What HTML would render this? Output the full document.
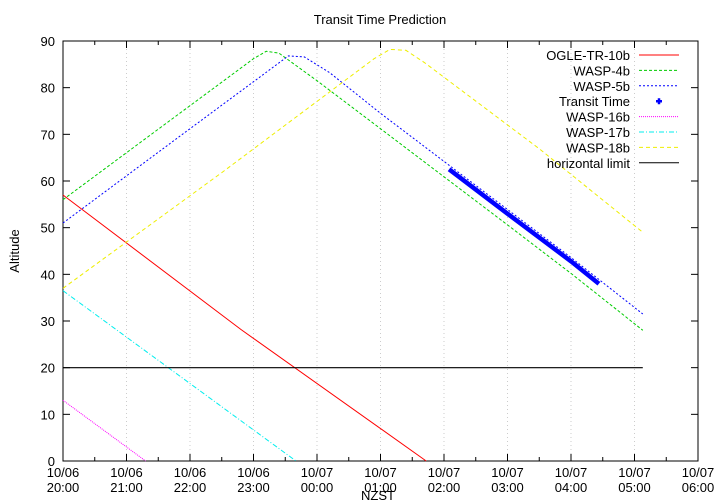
<!DOCTYPE html>
<html><head><meta charset="utf-8"><style>
body{margin:0;background:#fff}
svg{display:block;font-family:"Liberation Sans",sans-serif}
</style></head><body>
<svg id="c" width="720" height="504"></svg>
<script>
const xTickLabels=[["10/06","20:00"],["10/06","21:00"],["10/06","22:00"],["10/06","23:00"],["10/07","00:00"],["10/07","01:00"],["10/07","02:00"],["10/07","03:00"],["10/07","04:00"],["10/07","05:00"],["10/07","06:00"]];
const yTicks=[0,10,20,30,40,50,60,70,80,90];
const ogleX=[0,2.8,5.72];
const ogleY=[57,28.2,0];
const wasp4X=[0,1.6,3.0,3.2,3.4,4,5,6,7,8,9.13];
const wasp4Y=[56,72.1,86.2,87.8,87.4,81.5,71.2,60.9,50.6,40.2,28];
const wasp5X=[0,1.8,3.3,3.55,3.8,4.2,5,6,7,8,9.13];
const wasp5Y=[51,69.2,84.3,86.8,86.6,83.2,74.5,64.2,53.9,43.6,31.5];
const transitX=[6.08,7,8,8.44];
const transitY=[62.5,53,42.8,38];
const wasp16X=[0,1.3];
const wasp16Y=[13,0];
const wasp17X=[0,3.67];
const wasp17Y=[36.5,0];
const wasp18X=[0,2.5,4.9,5.15,5.4,5.7,7.5,9.13];
const wasp18Y=[37,61.8,86.2,88.2,88,85.3,66.9,49];
const limitX=[0,9.13];
const limitY=[20,20];

const L=63,R=698,T=41,B=461;
const sx=h=>L+(R-L)*h/10, sy=v=>B-(B-T)*v/90;
const svg=document.getElementById('c');
const NS='http://www.w3.org/2000/svg';
function mk(tag,at,txt){const e=document.createElementNS(NS,tag);for(const k in at)e.setAttribute(k,at[k]);if(txt!==undefined)e.textContent=txt;svg.appendChild(e);return e;}
for(let i=0;i<=10;i++){
  const x=sx(i);
  if(i>0&&i<10){const g=mk('line',{x1:x,y1:T,x2:x,y2:B,stroke:'#aaa','stroke-width':0.6,'stroke-dasharray':'1,3'});
  
  }
  mk('line',{x1:x,y1:B,x2:x,y2:B-7,stroke:'#000','stroke-width':1});
  mk('line',{x1:x,y1:T,x2:x,y2:T+7,stroke:'#000','stroke-width':1});
  if(i<10){const xm=sx(i+0.5);mk('line',{x1:xm,y1:B,x2:xm,y2:B-4,stroke:'#000'});mk('line',{x1:xm,y1:T,x2:xm,y2:T+4,stroke:'#000'});}
  const t=mk('text',{x:x,y:B+16,'text-anchor':'middle','font-size':13});
  
  
  const a=document.createElementNS(NS,'tspan');a.setAttribute('x',x);a.textContent=xTickLabels[i][0];t.appendChild(a);
  const b=document.createElementNS(NS,'tspan');b.setAttribute('x',x);b.setAttribute('dy',15);b.textContent=xTickLabels[i][1];t.appendChild(b);
}
yTicks.forEach(v=>{const y=sy(v);
  mk('line',{x1:L,y1:y,x2:L+7,y2:y,stroke:'#000'});mk('line',{x1:R,y1:y,x2:R-7,y2:y,stroke:'#000'});
  const t=mk('text',{x:L-8,y:y+5,'text-anchor':'end','font-size':13},v);
  
  
});
const fr=mk('rect',{x:L,y:T,width:R-L,height:B-T,fill:'none',stroke:'#000','stroke-width':1});


const ti=mk('text',{x:380,y:24,'text-anchor':'middle','font-size':13},'Transit Time Prediction');


const xt=mk('text',{x:378,y:500,'text-anchor':'middle','font-size':13},'NZST');


const yt=mk('text',{x:19,y:251,'text-anchor':'middle','font-size':13,transform:'rotate(-90 19 251)'},'Altitude');



const pts=(X,Y)=>X.map((h,i)=>sx(h).toFixed(1)+','+sy(Y[i]).toFixed(1)).join(' ');
const series=[
 ['OGLE-TR-10b',ogleX,ogleY,'#f00',1,'','ogle-tr-10b-line'],
 ['WASP-4b',wasp4X,wasp4Y,'#0c0',1,'3,2','wasp-4b-line'],
 ['WASP-5b',wasp5X,wasp5Y,'#00f',1,'2,2','wasp-5b-line'],
 ['WASP-16b',wasp16X,wasp16Y,'#f0f',1,'1,1','wasp-16b-line'],
 ['WASP-17b',wasp17X,wasp17Y,'#0ee',1,'5,2,1,2','wasp-17b-line'],
 ['WASP-18b',wasp18X,wasp18Y,'#ee0',1,'4,3','wasp-18b-line'],
 ['horizontal limit',limitX,limitY,'#000',1.2,'','horizontal-limit-line']];
series.forEach(s=>{const p=mk('polyline',{points:pts(s[1],s[2]),fill:'none',stroke:s[3],'stroke-width':s[4],'stroke-dasharray':s[5]});
  
  });
const tr=mk('polyline',{points:pts(transitX,transitY),fill:'none',stroke:'#00f','stroke-width':4.5});


const leg=[['OGLE-TR-10b','#f00',''],['WASP-4b','#0c0','3,2'],['WASP-5b','#00f','2,2'],['Transit Time','#00f','pt'],['WASP-16b','#f0f','1,1'],['WASP-17b','#0ee','5,2,1,2'],['WASP-18b','#ee0','4,3'],['horizontal limit','#000','']];
leg.forEach((e,i)=>{const y=55+i*15.4;
  const t=mk('text',{x:630,y:y+5,'text-anchor':'end','font-size':13},e[0]);
  
  
  if(e[2]==='pt'){mk('path',{d:`M${659},${y-3}v6M${656},${y}h6`,stroke:'#00f','stroke-width':2.5});}
  else mk('line',{x1:639,y1:y,x2:679,y2:y,stroke:e[1],'stroke-dasharray':e[2],'stroke-width':1});
});
</script>
</body></html>
